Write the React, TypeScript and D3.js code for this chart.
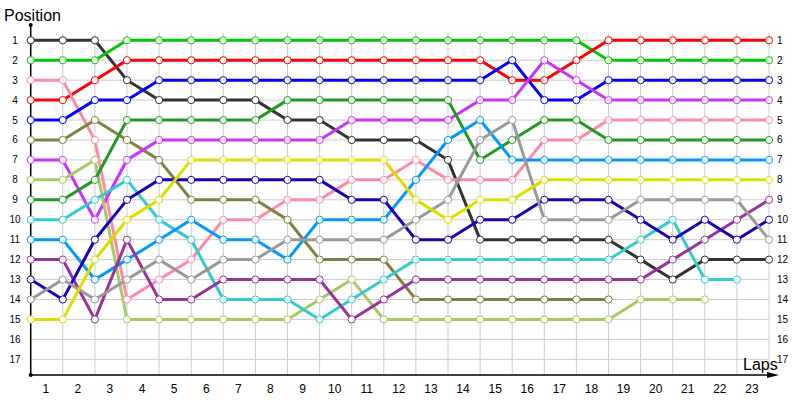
import React from 'react'
import * as d3 from 'd3'

// position of each driver after every lap (index 0 = start)
const laps = d3.range(0, 24)
const lapLabels = d3.range(1, 24).map(String)
const positionTicks = d3.range(1, 18)

const black = [1, 1, 1, 3, 4, 4, 4, 4, 5, 5, 6, 6, 6, 7, 11, 11, 11, 11, 11, 12, 13, 12, 12, 12]
const green = [2, 2, 2, 1, 1, 1, 1, 1, 1, 1, 1, 1, 1, 1, 1, 1, 1, 1, 2, 2, 2, 2, 2, 2]
const red = [4, 4, 3, 2, 2, 2, 2, 2, 2, 2, 2, 2, 2, 2, 2, 3, 3, 2, 1, 1, 1, 1, 1, 1]
const pink = [3, 3, 6, 14, 13, 12, 10, 10, 9, 9, 8, 8, 7, 8, 8, 8, 6, 6, 5, 5, 5, 5, 5, 5]
const blue = [5, 5, 4, 4, 3, 3, 3, 3, 3, 3, 3, 3, 3, 3, 3, 2, 4, 4, 3, 3, 3, 3, 3, 3]
const olive = [6, 6, 5, 6, 7, 9, 9, 9, 10, 12, 12, 12, 14, 14, 14, 14, 14, 14, 14]
const magenta = [7, 7, 10, 7, 6, 6, 6, 6, 6, 6, 5, 5, 5, 5, 4, 4, 2, 3, 4, 4, 4, 4, 4, 4]
const lightGreen = [8, 8, 7, 15, 15, 15, 15, 15, 15, 14, 13, 15, 15, 15, 15, 15, 15, 15, 15, 14, 14, 14]
const darkGreen = [9, 9, 8, 5, 5, 5, 5, 5, 4, 4, 4, 4, 4, 4, 7, 6, 5, 5, 6, 6, 6, 6, 6, 6]
const cyan = [10, 10, 9, 8, 10, 11, 14, 14, 14, 15, 14, 13, 12, 12, 12, 12, 12, 12, 12, 11, 10, 13, 13]
const lightBlue = [11, 11, 13, 12, 11, 10, 11, 11, 12, 10, 10, 10, 8, 6, 5, 7, 7, 7, 7, 7, 7, 7, 7, 7]
const darkPurple = [12, 12, 15, 11, 14, 14, 13, 13, 13, 13, 15, 14, 13, 13, 13, 13, 13, 13, 13, 13, 12, 11, 10, 9]
const navy = [13, 14, 11, 9, 8, 8, 8, 8, 8, 8, 9, 9, 11, 11, 10, 10, 9, 9, 9, 10, 11, 10, 11, 10]
const gray = [14, 13, 14, 13, 12, 13, 12, 12, 11, 11, 11, 11, 10, 9, 6, 5, 10, 10, 10, 9, 9, 9, 9, 11]
const yellow = [15, 15, 12, 10, 9, 7, 7, 7, 7, 7, 7, 7, 9, 10, 9, 9, 8, 8, 8, 8, 8, 8, 8, 8]

const drivers = [
  { values: black, color: '#333333' },
  { values: green, color: '#00c800' },
  { values: red, color: '#ff0000' },
  { values: pink, color: '#ff8aa8' },
  { values: blue, color: '#0000ff' },
  { values: olive, color: '#808040' },
  { values: magenta, color: '#cc33ff' },
  { values: lightGreen, color: '#a8c864' },
  { values: darkGreen, color: '#229922' },
  { values: cyan, color: '#33cccc' },
  { values: lightBlue, color: '#0099ff' },
  { values: darkPurple, color: '#993399' },
  { values: navy, color: '#1a00b8' },
  { values: gray, color: '#999999' },
  { values: yellow, color: '#dddd00' },
]

const font = 'Liberation Sans, Arial, sans-serif'

const App = () => {
  const width = 800
  const height = 400
  const axisY = 375

  const x = d3.scaleLinear().domain([0, 23]).range([30.7, 769])
  const y = d3.scaleLinear().domain([1, 17]).range([40.3, 359.3])

  const line = d3.line<number>()
    .x((d, i) => x(i))
    .y(d => y(d))

  return (
    <svg width={width} height={height} style={{ position: 'absolute', left: 0, top: 0, background: '#fff' }}>
      {/* grid */}
      <g stroke="#cccccc" strokeWidth={1}>
        {laps.map(l => (
          <line key={'v' + l} x1={x(l)} x2={x(l)} y1={33} y2={axisY} />
        ))}
        {positionTicks.map(p => (
          <line key={'h' + p} x1={x(0)} x2={x(23)} y1={y(p)} y2={y(p)} />
        ))}
      </g>

      {/* axes */}
      <line x1={x(0)} x2={x(0)} y1={25} y2={axisY} stroke="#000" strokeWidth={1.5} />
      <line x1={x(0)} x2={772} y1={axisY} y2={axisY} stroke="#000" strokeWidth={1.5} />
      <path d={`M767,${axisY - 3}L779,${axisY}L767,${axisY + 3}Z`} fill="#000" />
      <circle cx={x(0)} cy={25} r={2} fill="#000" />
      <circle cx={x(0)} cy={axisY} r={2} fill="#000" />

      <text x={4} y={21} fontSize={16} fontFamily={font}>Position</text>
      <text x={743} y={370} fontSize={16} fontFamily={font}>Laps</text>

      {positionTicks.map(p => (
        <g key={'yl' + p} fontSize={10} fontFamily={font}>
          <text x={15} y={y(p) + 3.5} textAnchor="middle">{p}</text>
          <text x={777} y={y(p) + 3.5}>{p}</text>
        </g>
      ))}

      {lapLabels.map((t, i) => (
        <text key={'xl' + t} x={x(i + 0.5) - 1} y={393} fontSize={12} fontFamily={font} textAnchor="middle">{t}</text>
      ))}

      {/* driver lines */}
      {drivers.map((d, k) => (
        <path key={'l' + k} d={line(d.values) || ''} fill="none" stroke={d.color} strokeWidth={3} />
      ))}
      {drivers.map((d, k) => (
        <g key={'m' + k}>
          {d.values.map((v, i) => (
            <circle key={i} cx={x(i)} cy={y(v)} r={3.6} fill="#fff" stroke={d.color} strokeWidth={1} />
          ))}
        </g>
      ))}
    </svg>
  )
}

export default App
